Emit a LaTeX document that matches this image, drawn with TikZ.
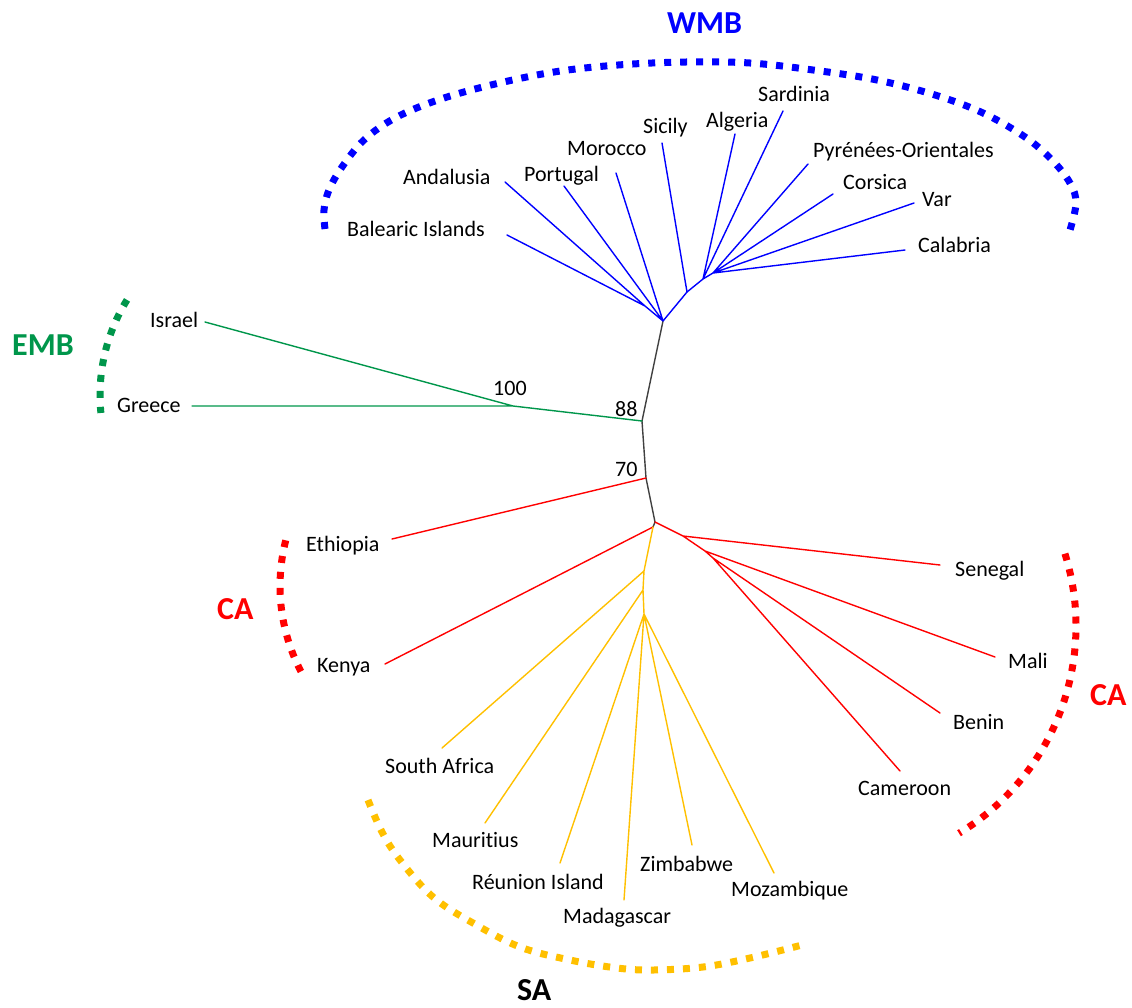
\documentclass[tikz,border=0pt]{standalone}
\usepackage{fontspec}
\setmainfont{Carlito}[Ligatures=NoCommon]
\definecolor{wmb}{RGB}{0,0,255}
\definecolor{emb}{RGB}{0,150,75}
\definecolor{ca}{RGB}{255,0,0}
\definecolor{sa}{RGB}{255,192,0}
\definecolor{stem}{RGB}{64,64,64}
\begin{document}
\begin{tikzpicture}[x=1pt,y=-1pt,
  lab/.style={font=\fontsize{22}{24}\selectfont, inner sep=0pt, anchor=base west, text=black},
  grp/.style={font=\fontsize{32}{34}\selectfont\bfseries, inner sep=0pt, anchor=base west},
  br/.style={line width=1.4pt, line cap=round, line join=round},
  dots/.style={line width=7pt, dash pattern=on 7pt off 9pt}]
\useasboundingbox (0,0) rectangle (1132,1007);

% internal nodes
\coordinate (R) at (663,321);
\coordinate (W1) at (645,306);
\coordinate (W2) at (687,292);
\coordinate (W3) at (703,279);
\coordinate (W4) at (713,273);
\coordinate (G0) at (642,421);
\coordinate (G1) at (513,406);
\coordinate (E0) at (646,478);
\coordinate (C0) at (655,522);
\coordinate (C1) at (653,527);
\coordinate (R1) at (683,536);
\coordinate (R2) at (705,551);
\coordinate (R3) at (713,558);
\coordinate (Y1) at (644,571);
\coordinate (Y2) at (643,590);
\coordinate (Y3) at (644,614);
% leaf tips
\coordinate (bal) at (507,235);
\coordinate (and) at (505,182);
\coordinate (por) at (564,186);
\coordinate (mor) at (616,173);
\coordinate (sic) at (662,143);
\coordinate (alg) at (735,134);
\coordinate (sar) at (783,111);
\coordinate (pyr) at (808,164);
\coordinate (cor) at (833,194);
\coordinate (var) at (914,203);
\coordinate (cal) at (905,250);
\coordinate (isr) at (205,322);
\coordinate (gre) at (192,406);
\coordinate (eth) at (392,539);
\coordinate (ken) at (385,664);
\coordinate (sen) at (940,565);
\coordinate (mal) at (995,657);
\coordinate (ben) at (940,713);
\coordinate (cam) at (900,771);
\coordinate (saf) at (442,748);
\coordinate (mau) at (485,823);
\coordinate (reu) at (560,863);
\coordinate (mad) at (624,900);
\coordinate (zim) at (692,845);
\coordinate (moz) at (774,873);

% branches
\draw[br, stem] (R) -- (G0) -- (E0) -- (C0) -- (C1);
\draw[br, wmb] (W1) -- (bal) (W1) -- (and) (W1) -- (R)
  (R) -- (por) (R) -- (mor) (R) -- (W2) -- (sic)
  (W2) -- (W3) -- (alg) (W3) -- (sar) (W3) -- (W4) -- (pyr)
  (W4) -- (cor) (W4) -- (var) (W4) -- (cal);
\draw[br, emb] (G0) -- (G1) -- (isr) (G1) -- (gre);
\draw[br, ca] (E0) -- (eth) (C1) -- (ken) (C0) -- (R1) -- (sen)
  (R1) -- (R2) -- (mal) (R2) -- (R3) -- (ben) (R3) -- (cam);
\draw[br, sa] (C1) -- (Y1) -- (saf) (Y1) -- (Y2) -- (mau) (Y2) -- (Y3) -- (reu)
  (Y3) -- (mad) (Y3) -- (zim) (Y3) -- (moz);

% leaf labels
\node[lab] (tBal) at (347,236) {Balearic Islands};
\node[lab] (tAnd) at (403,184) {Andalusia};
\node[lab] (tPor) at (524,181) {Portugal};
\node[lab] (tMor) at (567,155) {Morocco};
\node[lab] (tSic) at (643,133) {Sicily};
\node[lab] (tAlg) at (706,127) {Algeria};
\node[lab] (tSar) at (758,101) {Sardinia};
\node[lab] (tPyr) at (813,157) {Pyrénées-Orientales};
\node[lab] (tCor) at (843,189) {Corsica};
\node[lab] (tVar) at (922,206) {Var};
\node[lab] (tCal) at (918,252) {Calabria};
\node[lab] (tIsr) at (150,327) {Israel};
\node[lab] (tGre) at (117,412) {Greece};
\node[lab] (tEth) at (306,551) {Ethiopia};
\node[lab] (tKen) at (317,672) {Kenya};
\node[lab] (tSen) at (955,576) {Senegal};
\node[lab] (tMal) at (1008,668) {Mali};
\node[lab] (tBen) at (953,729) {Benin};
\node[lab] (tCam) at (858,795) {Cameroon};
\node[lab] (tSaf) at (385,773) {South Africa};
\node[lab] (tMau) at (432,847) {Mauritius};
\node[lab] (tReu) at (472,889) {Réunion Island};
\node[lab] (tMad) at (563,923) {Madagascar};
\node[lab] (tZim) at (640,871) {Zimbabwe};
\node[lab] (tMoz) at (731,896) {Mozambique};
% bootstrap values
\node[lab] (b100) at (493,395) {100};
\node[lab] (b88) at (615,416) {88};
\node[lab] (b70) at (615,476) {70};

% group labels
\node[grp, text=wmb] (gWMB) at (667,33) {WMB};
\node[grp, text=emb] (gEMB) at (12,355) {EMB};
\node[grp, text=ca] (gCA1) at (217,619) {CA};
\node[grp, text=ca] (gCA2) at (1090,705) {CA};
\node[grp, text=black] (gSA) at (517,1000) {SA};

% group brackets
\draw[dots, wmb] plot[smooth, tension=0.6] coordinates {(325,229) (324,210) (329,190) (342,167) (364,140) (395,118) (438,100) (491,85) (554,72) (618,65) (686,62) (750,63) (813,70) (877,80) (935,95) (983,113) (1025,137) (1052,160) (1070,183) (1076,203) (1070,230)};
\draw[dots, emb] (281,395) ++(211.7:181) arc[start angle=211.7, end angle=174.3, radius=181];
\draw[dots, ca] (465,586) ++(194.3:185) arc[start angle=194.3, end angle=151.3, radius=185];
\draw[dots, ca] (834,626) ++(-17.4:242) arc[start angle=-17.4, end angle=58.9, radius=242];
\draw[dots, sa] plot[smooth, tension=0.6] coordinates {(368,800) (382,832) (400,860) (433,897) (473,923) (520,947) (570,960) (617,968) (653,970) (703,967) (750,958) (802,945)};
\end{tikzpicture}
\end{document}
